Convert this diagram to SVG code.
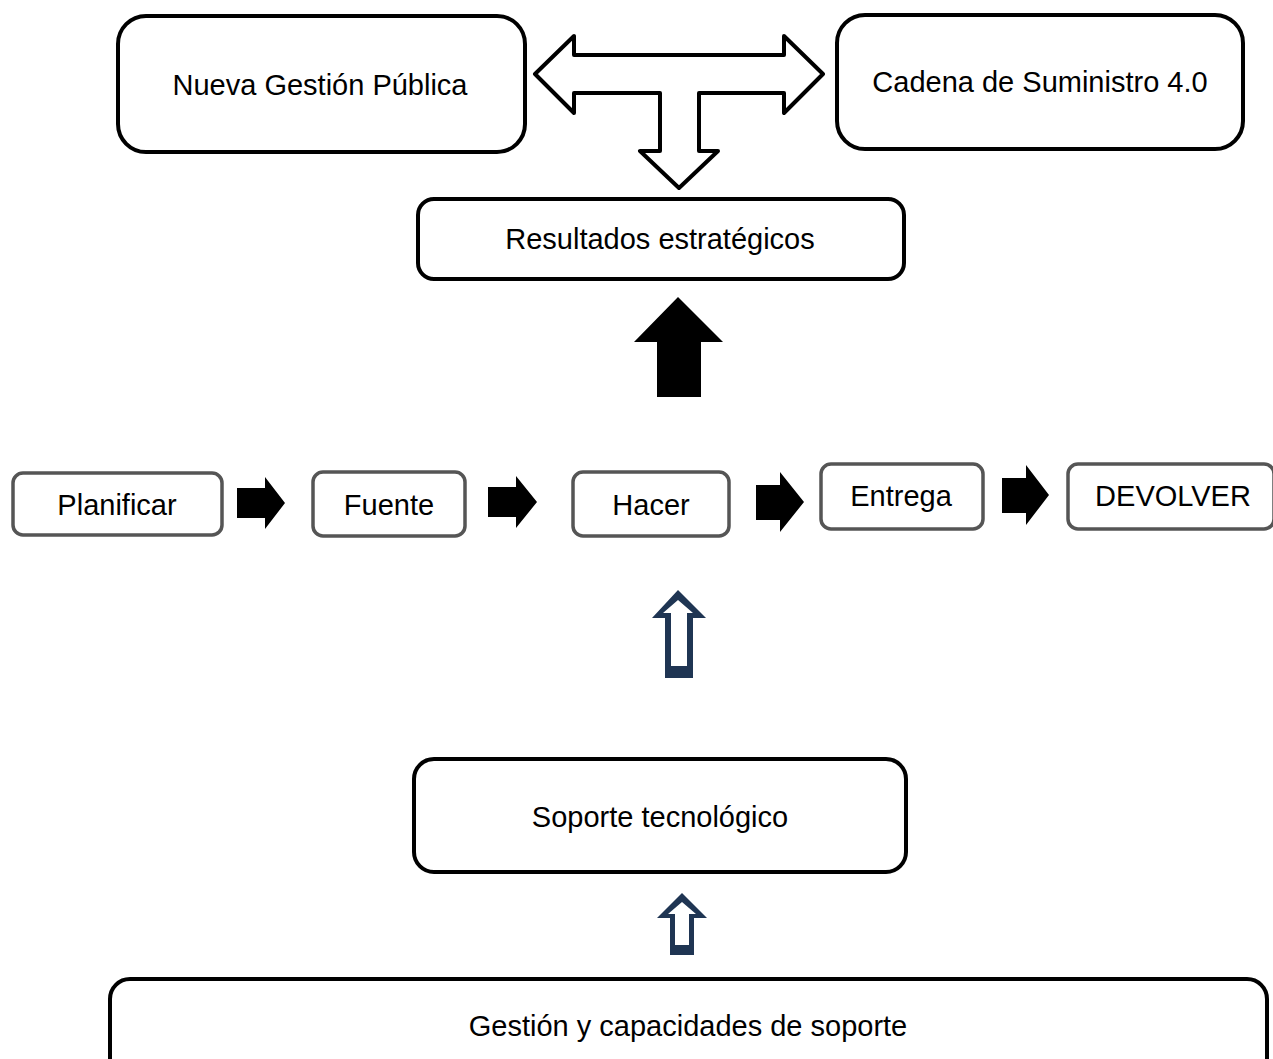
<svg xmlns="http://www.w3.org/2000/svg" width="1273" height="1059" viewBox="0 0 1273 1059">
  <style>
    .lbl { font-family: "Liberation Sans", Arial, sans-serif; font-size: 29px; fill: #000; text-anchor: middle; }
    .big { fill: #fff; stroke: #000; stroke-width: 4; }
    .step { fill: #fff; stroke: #555; stroke-width: 3.5; }
    .solid { fill: #000; }
    .hollow { fill: #1f3553; fill-rule: evenodd; }
  </style>
  <rect width="1273" height="1059" fill="#fff"/>

  <!-- connectors -->
  <g id="connectors">
    <!-- three-way arrow between the two top blocks and the results box -->
    <path class="big" stroke-linejoin="round" d="M535,74 L574,36 L574,55 L784,55 L784,36 L823,74 L784,113 L784,93 L699,93 L699,151 L718,151 L679,188 L640,151 L660,151 L660,93 L574,93 L574,113 Z"/>
    <!-- thick arrow up into the results box -->
    <path class="solid" d="M678,297 L723,342 L701,342 L701,397 L657,397 L657,342 L634,342 Z"/>
    <!-- process chain arrows -->
    <path class="solid" d="M237,488 L265,488 L265,477 L285,503 L265,529 L265,518 L237,518 Z"/>
    <path class="solid" d="M488,487 L516,487 L516,476 L537,502 L516,528 L516,517 L488,517 Z"/>
    <path class="solid" d="M756,485 L780,485 L780,472 L804,502 L780,532 L780,520 L756,520 Z"/>
    <path class="solid" d="M1002,478 L1026,478 L1026,465 L1049,495 L1026,525 L1026,513 L1002,513 Z"/>
    <!-- outlined arrows from the support layers -->
    <path class="hollow" d="M678,590 L706,618 L693,618 L693,678 L665,678 L665,618 L652,618 Z M678,600 L693,613 L687,613 L687,666 L671,666 L671,613 L663,613 Z"/>
    <path class="hollow" d="M682,893 L707,918 L694,918 L694,955 L670,955 L670,918 L657,918 Z M682,902 L696,914 L689,914 L689,945 L675,945 L675,914 L668,914 Z"/>
  </g>

  <!-- top blocks -->
  <g id="nueva-gestion">
    <rect class="big" x="118" y="16" width="407" height="136" rx="28"/>
    <text class="lbl" x="320" y="95">Nueva Gestión Pública</text>
  </g>
  <g id="cadena-suministro">
    <rect class="big" x="837" y="15" width="406" height="134" rx="28"/>
    <text class="lbl" x="1040" y="92">Cadena de Suministro 4.0</text>
  </g>
  <g id="resultados">
    <rect class="big" x="418" y="199" width="486" height="80" rx="16"/>
    <text class="lbl" x="660" y="249">Resultados estratégicos</text>
  </g>

  <!-- process chain -->
  <g id="planificar">
    <rect class="step" x="13" y="473" width="209" height="62" rx="10"/>
    <text class="lbl" x="117" y="515">Planificar</text>
  </g>
  <g id="fuente">
    <rect class="step" x="313" y="472" width="152" height="64" rx="10"/>
    <text class="lbl" x="389" y="515">Fuente</text>
  </g>
  <g id="hacer">
    <rect class="step" x="573" y="472" width="156" height="64" rx="10"/>
    <text class="lbl" x="651" y="515">Hacer</text>
  </g>
  <g id="entrega">
    <rect class="step" x="821" y="464" width="162" height="65" rx="10"/>
    <text class="lbl" x="901" y="506">Entrega</text>
  </g>
  <g id="devolver">
    <rect class="step" x="1068" y="464" width="206" height="65" rx="10"/>
    <text class="lbl" x="1173" y="506">DEVOLVER</text>
  </g>

  <!-- support layers -->
  <g id="soporte-tecnologico">
    <rect class="big" x="414" y="759" width="492" height="113" rx="20"/>
    <text class="lbl" x="660" y="827">Soporte tecnológico</text>
  </g>
  <g id="gestion-capacidades">
    <rect class="big" x="110" y="979" width="1157" height="110" rx="20" stroke-width="5"/>
    <text class="lbl" x="688" y="1036">Gestión y capacidades de soporte</text>
  </g>
</svg>
